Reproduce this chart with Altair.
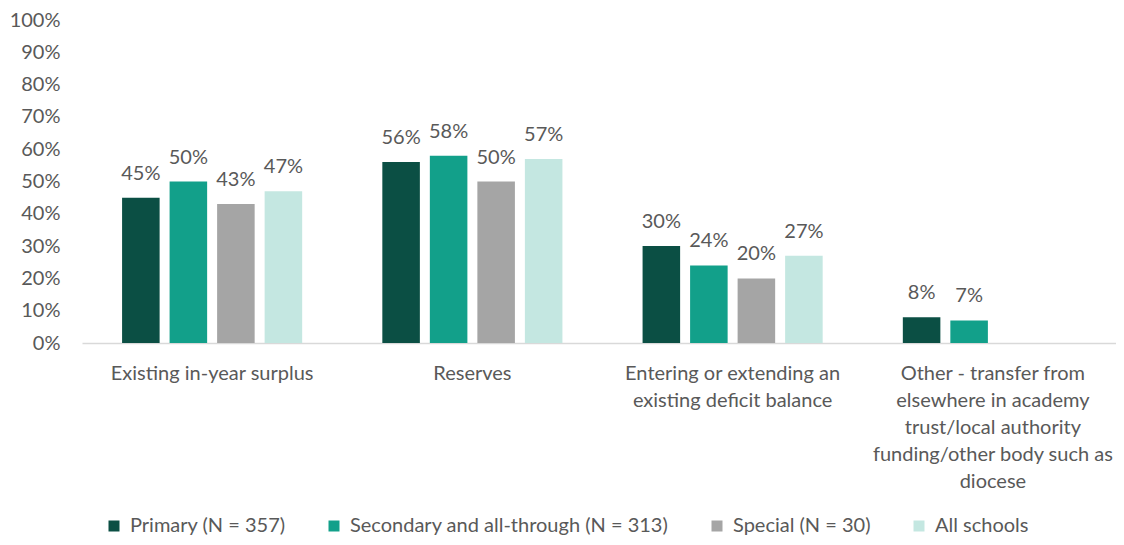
import altair as alt
import pandas as pd

categories = [
    "Existing in-year surplus",
    "Reserves",
    "Entering or extending an\nexisting deficit balance",
    "Other - transfer from\nelsewhere in academy\ntrust/local authority\nfunding/other body such as\ndiocese",
]
series = [
    "Primary (N = 357)",
    "Secondary and all-through (N = 313)",
    "Special (N = 30)",
    "All schools",
]
primary = [45, 56, 30, 8]
secondary = [50, 58, 24, 7]
special = [43, 50, 20, None]
all_schools = [47, 57, 27, None]
colors = ["#0b4f44", "#12a08a", "#a5a5a5", "#c4e7e1"]
y_ticks = [0, 0.1, 0.2, 0.3, 0.4, 0.5, 0.6, 0.7, 0.8, 0.9, 1.0]

rows = []
for s, vals in zip(series, [primary, secondary, special, all_schools]):
    for c, v in zip(categories, vals):
        if v is not None:
            rows.append({"category": c, "series": s, "value": v / 100})
df = pd.DataFrame(rows)

text_color = "#595959"
FONT = "Lato"
FS = 20

x_enc = alt.X(
    "category:N",
    sort=categories,
    scale=alt.Scale(range=[0, 1041], paddingInner=0.308, paddingOuter=0.154),
    axis=alt.Axis(
        title=None,
        labelAngle=0,
        labelExpr="split(datum.label, '\\n')",
        labelLineHeight=27,
        labelPadding=20,
        labelLimit=400,
        labelFontSize=FS,
        labelColor=text_color,
        labelFont=FONT,
        ticks=False,
        domainColor="#d9d9d9",
        domainWidth=1.5,
    ),
)
xoff_enc = alt.XOffset(
    "series:N", sort=series, scale=alt.Scale(paddingInner=0.21, paddingOuter=0)
)
y_enc = alt.Y(
    "value:Q",
    scale=alt.Scale(domain=[0, 1]),
    axis=alt.Axis(
        title=None,
        values=y_ticks,
        format=".0%",
        grid=False,
        ticks=False,
        domain=False,
        labelPadding=22,
        labelFontSize=FS,
        labelColor=text_color,
        labelFont=FONT,
    ),
)

base = alt.Chart(df).encode(x=x_enc, xOffset=xoff_enc, y=y_enc)

bars = base.mark_bar().encode(
    color=alt.Color(
        "series:N",
        sort=series,
        scale=alt.Scale(domain=series, range=colors),
        legend=alt.Legend(
            title=None,
            orient="none",
            direction="horizontal",
            legendX=22,
            legendY=496,
            symbolType="square",
            symbolSize=121,
            symbolStrokeWidth=0,
            labelFontSize=FS,
            labelColor=text_color,
            labelFont=FONT,
            labelOffset=6,
            columnPadding=38,
            labelLimit=500,
        ),
    )
)

labels = base.mark_text(
    baseline="alphabetic", dy=-18, fontSize=FS, color=text_color, font=FONT
).encode(text=alt.Text("value:Q", format=".0%"))

chart = (
    alt.layer(bars, labels)
    .properties(
        width=1030,
        height=323,
        autosize=alt.AutoSizeParams(type="none"),
        padding={"left": 74, "top": 12, "right": 4, "bottom": 194},
    )
    .configure(font=FONT)
    .configure_view(stroke=None)
)

chart.save("out.html", embed_options={"renderer": "svg", "actions": False})
